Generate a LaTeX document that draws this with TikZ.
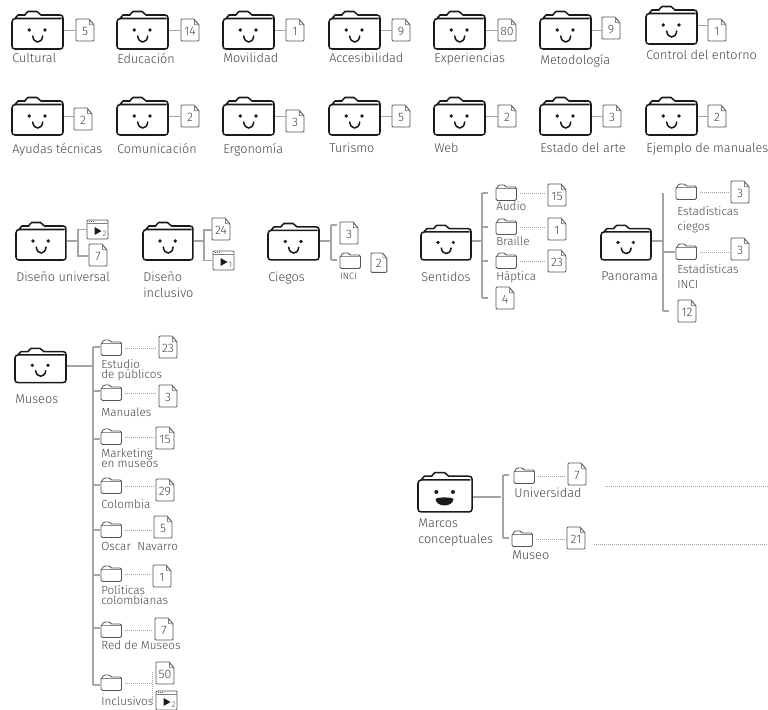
\documentclass[tikz,border=0pt]{standalone}
\usepackage{fontspec}
\setmainfont{Fira Sans Light}
\definecolor{ink}{HTML}{1A1A1A}
\definecolor{txt}{HTML}{444444}
\definecolor{conn}{HTML}{A4A4A4}
\definecolor{dotc}{HTML}{A0A0A0}
\definecolor{edge}{HTML}{555555}
\tikzset{
  lbl/.style={anchor=north west,inner sep=0pt,text=txt,font=\fontsize{9.5pt}{12pt}\selectfont,align=left},
  mlbl/.style={lbl,font=\fontsize{8.8pt}{7.6pt}\selectfont},
  elbl/.style={lbl,font=\fontsize{8.8pt}{11pt}\selectfont},
  tlbl/.style={lbl,font=\fontsize{7pt}{8pt}\selectfont},
  tree/.style={draw=conn,line width=0.8pt},
  dots/.style={draw=dotc,line width=0.75pt,dash pattern=on 0.75pt off 0.75pt,shorten <=2pt,shorten >=1.5pt},
  docnum/.style={anchor=north west,inner sep=0pt,text=txt,font=\fontsize{9.2pt}{10pt}\selectfont},
  holder/.style={anchor=north west,inner sep=0pt},
}
% folder outline with eyes: [yscale]{name}{x}{y}{xscale}
\newcommand{\bigb}[5][1]{%
 \node[holder,minimum width=#4*38.25pt,minimum height=#1*28.5pt] (#2) at (#3) {};
 \begin{scope}[shift={(#3)},xscale=#4,yscale=#1]
 \draw[ink,line width=1.15pt,line join=round] (3,7.5) -- (6,4) -- (13,4) .. controls (14,4) and (14,0.5) .. (16,0.5) -- (25,0.5) .. controls (27,0.5) and (27,4) .. (29,4) -- (48,4) .. controls (50,4) and (51,5) .. (51,7) -- (51,35) .. controls (51,37) and (50,38) .. (48,38) -- (3,38) .. controls (1,38) and (0,37) .. (0,35) -- (0,11) .. controls (0,8.5) and (1.5,7.5) .. (4,7.5) -- (49.5,7.5);
 \fill[ink] (17.3,19) circle (1.9);
 \fill[ink] (33,19) circle (1.9);
 #5
 \end{scope}}
\newcommand{\smilepath}{\draw[ink,line width=1.15pt,line cap=round] (20.7,25) .. controls (21.5,33) and (30,33) .. (30.7,25);}
\newcommand{\bigf}[4][1]{\bigb[#1]{#2}{#3}{#4}{\smilepath}}
% small folder: name,x,y
\newcommand{\smf}[2]{%
 \node[holder,minimum width=15.4pt,minimum height=11.6pt] (#1) at (#2) {};
 \begin{scope}[shift={(#2)}]
 \draw[edge,line width=0.65pt,line join=round] (1,3) -- (2,1) .. controls (2.5,0) and (3,0) .. (4,0) -- (8,0) .. controls (9,0) and (9.5,2) .. (10.5,2) -- (19,2) .. controls (20,2) and (20.5,2.5) .. (20.5,3.5) -- (20.5,14) .. controls (20.5,15) and (20,15.5) .. (19,15.5) -- (1.5,15.5) .. controls (0.5,15.5) and (0,15) .. (0,14) -- (0,4) .. controls (0,3.4) and (0.4,3) .. (1,3);
 \draw[black!45,line width=0.8pt] (1,3.2) -- (20,3.2);
 \end{scope}}
% document: [scale]{name}{x,y}{text}
\newcommand{\docf}[4][1]{%
 \begin{scope}[shift={(#3)},scale=#1]
 \draw[edge,line width=0.7pt,line join=round] (1,0) -- (13,0) -- (18,6) -- (18,21) .. controls (18,21.7) and (17.7,22) .. (17,22) -- (1,22) .. controls (0.3,22) and (0,21.7) .. (0,21) -- (0,1) .. controls (0,0.3) and (0.3,0) .. (1,0);
 \draw[black!50,line width=0.5pt] (13.5,0.5) -- (13.5,5.5) -- (18,6);
 \node[docnum,anchor=center,minimum width=#1*13.5pt,minimum height=#1*16.5pt] (#2) at (9,12) {#4};
 \end{scope}}
% video: name,x,y,subscript
\newcommand{\vidf}[3]{%
 \node[holder,minimum width=15.75pt,minimum height=14.25pt] (#1) at (#2) {};
 \begin{scope}[shift={(#2)}]
 \draw[edge,line width=0.7pt,rounded corners=0.8pt] (0,0) rectangle (21,19);
 \draw[black!50,line width=0.5pt] (0,3.5) -- (21,3.5);
 \draw[edge,line width=0.7pt,dash pattern=on 0.8pt off 0.8pt] (1.5,1.8) -- (7,1.8);
 \fill[ink] (7.5,7) -- (14.5,11) -- (7.5,15) -- cycle;
 \node[inner sep=0pt,text=txt,font=\fontsize{6pt}{6pt}\selectfont] (#1s) at (17.5,14) {#3};
 \end{scope}}
% tick on a tree: name,x,y,len
\newcommand{\tick}[3]{\coordinate (#1) at (#2); \draw[tree] (#1) -- ++(#3,0);}
% horizontal link from node a to the left side of node b
\newcommand{\hl}[2]{\draw[tree] (#1.east) -- (#1.east -| #2.west);}
\newcommand{\dl}[2]{\draw[dots] (#1.east) -- (#1.east -| #2.west);}
% stem: from the folder's right side, at the height of a coordinate, to that coordinate
\newcommand{\stem}[2]{\draw[tree] (#1.east |- #2) -- (#2);}
\begin{document}
\begin{tikzpicture}[x=0.75pt,y=-0.75pt]
\useasboundingbox (0,0) rectangle (768,710);
% ---- row 1
\bigf{fa}{12,11}{1}\docf{da}{76,19}{5}\hl{fa}{da}
\node[lbl] (la) at (12,53) {Cultural};
\bigf{fb}{117,11}{1}\docf{db}{181,19}{14}\hl{fb}{db}
\node[lbl] (lb) at (117,53) {Educación};
\bigf{fc}{223,11}{1}\docf{dc}{286,19}{1}\hl{fc}{dc}
\node[lbl] (lc) at (223,53) {Movilidad};
\bigf{fd}{329,11}{1}\docf{dd}{392,19}{9}\hl{fd}{dd}
\node[lbl] (ld) at (329,53) {Accesibilidad};
\bigf{fe}{434,11}{1}\docf{de}{498,19}{80}\hl{fe}{de}
\node[lbl] (le) at (434,53) {Experiencias};
\bigf{ff}{540,11}{1}\docf{df}{602,17}{9}\hl{ff}{df}
\node[lbl] (lf) at (540,54) {Metodología};
\bigf{fg}{646,6}{1}\docf{dg}{708,19}{1}\hl{fg}{dg}
\node[lbl] (lg) at (646,50) {Control del entorno};
% ---- row 2
\bigf{ga}{12,97}{1}\docf{ha}{74,108}{2}\hl{ga}{ha}
\node[lbl] (ma) at (12,143) {Ayudas técnicas};
\bigf{gb}{117,97}{1}\docf{hb}{181,105}{2}\hl{gb}{hb}
\node[lbl] (mb) at (117,143) {Comunicación};
\bigf{gc}{223,97}{1}\docf{hc}{286,110}{3}\hl{gc}{hc}
\node[lbl] (mc) at (223,143) {Ergonomía};
\bigf{gd}{329,97}{1}\docf{hd}{392,105}{5}\hl{gd}{hd}
\node[lbl] (md) at (329,143) {Turismo};
\bigf{ge}{434,97}{1}\docf{he}{498,105}{2}\hl{ge}{he}
\node[lbl] (me) at (434,143) {Web};
\bigf{gf}{540,97}{1}\docf{hf}{603,105}{3}\hl{gf}{hf}
\node[lbl] (mf) at (540,143) {Estado del arte};
\bigf{gg}{646,97}{1}\docf{hg}{708,105}{2}\hl{gg}{hg}
\node[lbl] (mg) at (646,143) {Ejemplo de manuales};
% ---- Diseño universal
\bigf{ia}{16,222}{0.98}\vidf{va}{87,220}{2}\docf{ja}{89,244}{7}
\coordinate (ia1) at (78,241);
\stem{ia}{ia1}
\draw[tree] (va.west) -| (ia1) |- (ja.west);
\node[lbl] (na) at (16,272) {Diseño universal};
% ---- Diseño inclusivo
\bigf{ib}{143,222}{0.98}\docf{jb}{212,218}{24}\vidf{vb}{213,251}{1}
\coordinate (ib1) at (204,241);
\stem{ib}{ib1}
\draw[tree] (jb.west) -| (ib1) |- (vb.west);
\node[lbl] (nb) at (143,272) {Diseño\\inclusivo};
% ---- Ciegos
\bigf[0.97]{ic}{268,223}{1}\docf{jc}{340,222}{3}\smf{sc}{340,253}\docf[0.88]{kc}{371,253}{2}
\coordinate (ic1) at (331,241);
\stem{ic}{ic1}
\tick{ic2}{331,225}{6}\tick{ic3}{331,260}{6}
\draw[tree] (ic2) -- (ic3);
\node[tlbl] (nc) at (340,272.5) {INCI};
\node[lbl] (nd) at (268,272) {Ciegos};
% ---- Sentidos
\bigf[0.92]{ie}{421,225}{0.98}
\coordinate (ie1) at (482,241);
\stem{ie}{ie1}
\tick{et1}{482,193}{6}\tick{et2}{482,227}{6}\tick{et3}{482,261}{6}\tick{et4}{482,298}{6}
\draw[tree] (et1) -- (et4);
\smf{se1}{496,185}\docf{de1}{548,184}{15}\dl{se1}{de1}
\node[mlbl] (ne1) at (496,201) {Audio};
\smf{se2}{496,219}\docf{de2}{548,218}{1}\dl{se2}{de2}
\node[mlbl] (ne2) at (496,236) {Braille};
\smf{se3}{496,253}\docf{de3}{548,250}{23}\dl{se3}{de3}
\node[mlbl] (ne3) at (496,271) {Háptica};
\docf{de4}{496,287}{4}
\node[lbl] (ne) at (421,272) {Sentidos};
% ---- Panorama
\bigf[0.92]{ip}{601,225}{0.98}
\coordinate (ip1) at (663,241);
\stem{ip}{ip1}
\coordinate (pt0) at (663,193);
\tick{pt1}{663,252}{12}\tick{pt2}{663,311}{6}
\draw[tree] (pt0) -- (pt2);
\smf{sp1}{676,184}\docf{dp1}{731,181}{3}\dl{sp1}{dp1}
\node[elbl] (np1) at (677,206) {Estadísticas\\ciegos};
\smf{sp2}{676,244}\docf{dp2}{731,238}{3}\dl{sp2}{dp2}
\node[elbl] (np2) at (677,264) {Estadísticas\\INCI};
\docf{dp3}{678,300}{12}
\node[lbl] (np) at (601,272) {Panorama};
% ---- Museos
\bigf[0.91]{im}{15,348}{1}
\node[lbl] (nm) at (15,395) {Museos};
\coordinate (im1) at (93,366);
\stem{im}{im1}
\tick{mt1}{93,347}{7}\tick{mt2}{93,391}{7}\tick{mt3}{93,439}{7}\tick{mt4}{93,485}{7}
\tick{mt5}{93,530}{7}\tick{mt6}{93,575}{7}\tick{mt7}{93,628}{7}\tick{mt8}{93,685}{7}
\draw[tree] (mt1) -- (mt8);
\smf{sm1}{101,340}\docf{dm1}{159,336}{23}\dl{sm1}{dm1}
\node[mlbl] (lm1) at (101,359) {Estudio\\de públicos};
\smf{sm2}{101,385}\docf{dm2}{159,385}{3}\dl{sm2}{dm2}
\node[mlbl] (lm2) at (101,408) {Manuales};
\smf{sm3}{101,429}\docf{dm3}{156,427}{15}\dl{sm3}{dm3}
\node[mlbl] (lm3) at (101,448.5) {Marketing\\en museos};
\smf{sm4}{101,478}\docf{dm4}{156,479}{29}\dl{sm4}{dm4}
\node[mlbl] (lm4) at (101,499) {Colombia};
\smf{sm5}{101,522}\docf{dm5}{154,516}{5}\dl{sm5}{dm5}
\node[mlbl] (lm5) at (101,542) {Oscar\ \ Navarro};
\smf{sm6}{101,566}\docf{dm6}{153,565}{1}\dl{sm6}{dm6}
\node[mlbl] (lm6) at (101,585) {Políticas\\colombianas};
\smf{sm7}{101,622}\docf{dm7}{155,618}{7}\dl{sm7}{dm7}
\node[mlbl] (lm7) at (101,641) {Red de Museos};
\smf{sm8}{101,675}\docf{dm8}{156,662}{50}\vidf{vm8}{156,691}{2}
\coordinate (mv) at (152,683);\coordinate (mv1) at (152,672);\coordinate (mv2) at (152,702);
\draw[dots,shorten >=0pt] (sm8.east) -- (mv);
\draw[dots,shorten <=0pt,shorten >=0pt] (mv1) -- (mv2);
\node[mlbl] (lm8) at (101,696) {Inclusivos};
% ---- Marcos conceptuales
\bigb[1.05]{ik}{418,472}{1.06}{\fill[ink] (16.5,25.5) .. controls (20,23.8) and (30,23.8) .. (33.5,25.5) .. controls (33,34) and (17,34) .. (16.5,25.5) -- cycle;}
\coordinate (ik1) at (501,497);
\stem{ik}{ik1}
\tick{kt1}{503,475}{6}\tick{kt2}{503,538}{6}
\draw[tree] (kt1) -- (kt2);
\node[lbl] (nk) at (418,519) {Marcos\\conceptuales};
\smf{sk1}{514,468}\docf{dk1}{568,463}{7}\dl{sk1}{dk1}
\node[lbl] (lk1) at (514,488) {Universidad};
\smf{sk2}{512,531}\docf{dk2}{567,527}{21}\dl{sk2}{dk2}
\node[lbl] (lk2) at (512,551) {Museo};
\coordinate (ka) at (605,486);\coordinate (kb) at (768,486);
\coordinate (kc) at (594,544);\coordinate (kd) at (768,544);
\draw[dots,shorten <=0pt,shorten >=0pt] (ka) -- (kb);
\draw[dots,shorten <=0pt,shorten >=0pt] (kc) -- (kd);
\end{tikzpicture}
\end{document}
